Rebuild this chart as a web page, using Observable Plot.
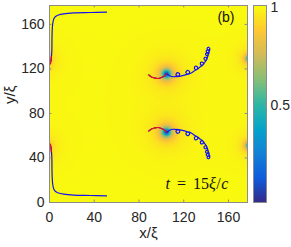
<!DOCTYPE html>
<html>
<head>
<meta charset="utf-8">
<script src="https://cdn.jsdelivr.net/npm/d3@7"></script>
<script src="https://cdn.jsdelivr.net/npm/@observablehq/plot@0.6"></script>
<style>
  html, body { margin: 0; padding: 0; background: #ffffff; }
  #chart { position: relative; width: 291px; height: 247px; }
  #chart svg { position: absolute; left: 0; top: 0; background: transparent; }
</style>
</head>
<body>
<div id="chart"></div>
<script>
// ---- data ----
const xTicks = [0, 40, 80, 120, 160];
const yTicks = [0, 40, 80, 120, 160];
const colorTicks = [0.5, 1];
const labelT = "t = 15ξ/c";

// vortex positions (x/ξ, y/ξ) and core size shaping the density field
const vortexX = [104.6, 104.6, -5, -5, 178.3, 178.3];
const vortexY = [115.5, 63.3, 127.6, 49.7, 129.4, 51.2];
const vortexCore = [3.2, 3.2, 2.4, 2.4, 2.0, 2.0];

// left boundary trajectories
const leftUpperBlue = [[1.3,126.7],[2.1,136.6],[2.2,145.6],[2.4,154.5],[2.9,160.8],[3.8,164.9],[5.4,167.1],[8.0,168.5],[12.5,169.5],[21.5,170.4],[36.7,170.7],[51.0,171.0]];
const leftUpperRed = [[0.9,124.6],[1.2,127.5],[1.6,130.8]];
const leftLowerBlue = [[1.3,50.3],[2.1,40.4],[2.2,31.4],[2.4,22.5],[2.9,16.2],[3.8,12.1],[5.4,9.9],[8.0,8.5],[12.5,7.5],[21.5,6.6],[36.7,6.3],[51.0,6.0]];
const leftLowerRed = [[0.9,52.4],[1.2,49.5],[1.6,46.2]];

// central trajectories
const midUpperRed = [[88.8,114.6],[91.2,112.8],[93.9,111.9],[97.0,111.4],[100.1,112.3],[102.8,113.7],[104.6,115.5]];
const midUpperBlue = [[88.8,114.6],[91.2,112.8],[93.9,111.9],[97.0,111.4],[100.1,112.3],[102.8,113.7],[104.6,115.5],
  [107.3,113.9],[110.5,113.0],[113.0,113.2],
  [115.0,113.3],[116.4,115.3],[114.4,116.7],[113.0,114.7],[115.0,113.3],
  [119.0,114.0],[122.0,114.9],
  [124.0,115.3],[125.3,117.4],[123.2,118.7],[121.9,116.6],[124.0,115.3],
  [127.5,116.8],[130.0,118.7],
  [131.8,119.6],[132.4,121.8],[130.2,122.4],[129.6,120.2],[131.8,119.6],
  [134.5,121.8],
  [137.1,123.6],[137.4,125.7],[135.3,126.0],[135.0,123.9],[137.1,123.6],
  [138.8,126.0],
  [140.5,128.4],[140.2,130.3],[138.3,130.0],[138.6,128.1],[140.5,128.4],
  [141.3,130.8],
  [141.9,132.8],[141.1,134.4],[139.5,133.6],[140.3,132.0],[141.9,132.8],
  [142.7,135.6],[141.7,137.2],[140.1,136.2],[141.1,134.6],[142.7,135.6],
  [143.3,138.0],[142.4,139.5],[140.9,138.6],[141.8,137.1],[143.3,138.0]];
const midLowerRed = [[88.8,64.2],[91.2,66.0],[93.9,66.9],[97.0,67.4],[100.1,66.5],[102.8,65.1],[104.6,63.3]];
const midLowerBlue = [[88.8,64.2],[91.2,66.0],[93.9,66.9],[97.0,67.4],[100.1,66.5],[102.8,65.1],[104.6,63.3],
  [107.3,64.9],[110.5,65.8],[113.0,65.6],
  [115.0,65.5],[116.4,63.5],[114.4,62.1],[113.0,64.1],[115.0,65.5],
  [119.0,64.8],[122.0,63.9],
  [124.0,63.5],[125.3,61.4],[123.2,60.1],[121.9,62.2],[124.0,63.5],
  [127.5,62.0],[130.0,60.1],
  [131.8,59.2],[132.4,57.0],[130.2,56.4],[129.6,58.6],[131.8,59.2],
  [134.5,57.0],
  [137.1,55.2],[137.4,53.1],[135.3,52.8],[135.0,54.9],[137.1,55.2],
  [138.8,52.8],
  [140.5,50.4],[140.2,48.5],[138.3,48.8],[138.6,50.7],[140.5,50.4],
  [141.3,48.0],
  [141.9,46.0],[141.1,44.4],[139.5,45.2],[140.3,46.8],[141.9,46.0],
  [142.7,43.2],[141.7,41.6],[140.1,42.6],[141.1,44.2],[142.7,43.2],
  [143.3,40.8],[142.4,39.3],[140.9,40.2],[141.8,41.7],[143.3,40.8]];

// parula colormap stops
const parula = ["#352a87","#0f5cdd","#1481d6","#06a4ca","#2eb7a4","#87bf77","#d1bb59","#fec832","#f9fb0e"];
const parulaInterp = d3.piecewise(d3.interpolateRgb, parula);

// density field from vortex list
function density(x, y) {
  let v = 1;
  for (let i = 0; i < vortexX.length; i++) {
    const dx = x - vortexX[i], dy = y - vortexY[i];
    const r2 = dx * dx + dy * dy;
    const c2 = vortexCore[i] * vortexCore[i];
    v *= r2 / (r2 + c2);
  }
  return v;
}

const blue = "#1414f0", red = "#ee1010";
const lw = 1.2;
const line = (data, stroke) => Plot.line(data, {x: d => d[0], y: d => d[1], stroke, strokeWidth: lw, curve: "catmull-rom"});
const font = "'Liberation Sans', Arial, Helvetica, sans-serif";
const ink = "#262626";
const frameGray = "#8c8c8c";

const main = Plot.plot({
  width: 291, height: 247,
  marginLeft: 49, marginRight: 44, marginTop: 5, marginBottom: 45,
  x: {domain: [0, 177], label: null},
  y: {domain: [0, 177], label: null},
  color: {type: "linear", domain: [0, 1], interpolate: parulaInterp},
  style: {fontFamily: font, fontSize: "14px", color: ink, background: "transparent"},
  marks: [
    Plot.raster({fill: density, x1: 0, y1: 0, x2: 177, y2: 177, pixelSize: 1}),
    line(leftUpperBlue, blue), line(leftLowerBlue, blue),
    line(leftUpperRed, red), line(leftLowerRed, red),
    line(midUpperBlue, blue), line(midLowerBlue, blue),
    line(midUpperRed, red), line(midLowerRed, red),
    Plot.frame({stroke: frameGray, strokeWidth: 1}),
    Plot.ruleX(xTicks, {y1: 0, y2: 2.2, stroke: frameGray}),
    Plot.ruleX(xTicks, {y1: 177, y2: 174.8, stroke: frameGray}),
    Plot.ruleY(yTicks, {x1: 0, x2: 2.2, stroke: frameGray}),
    Plot.ruleY(yTicks, {x1: 177, x2: 174.8, stroke: frameGray}),
    Plot.axisX(xTicks, {tickSize: 0, tickPadding: 10, label: null, fontSize: 14}),
    Plot.axisY(yTicks, {tickSize: 0, tickPadding: 5, label: null, fontSize: 14}),
    Plot.text(["x/ξ"], {frameAnchor: "bottom", dy: 35, fontSize: 15, fill: ink}),
    Plot.text(["y/ξ"], {frameAnchor: "left", rotate: -90, dx: -39, fontSize: 15, fill: ink}),
    Plot.text(["(b)"], {frameAnchor: "top-right", textAnchor: "end", lineAnchor: "middle", dx: -13, dy: 12, fontSize: 14, fill: "#111"}),
    Plot.text([labelT], {frameAnchor: "bottom-right", textAnchor: "start", lineAnchor: "middle", dx: -82, dy: -19, fontSize: 16, fill: "#111"})
  ]
});

// typeset the time label: italic symbols, upright numbers
d3.select(main).selectAll("text").each(function() {
  if (this.textContent === labelT) {
    const t = d3.select(this);
    t.text(null).attr("font-family", "'Liberation Serif', 'Times New Roman', serif");
    const parts = [["t", "italic", 0], ["=", "normal", 7], ["15", "normal", 7], ["ξ", "italic", 0], ["/", "normal", 0.5], ["c", "italic", 0.5]];
    for (const [s, st, dx] of parts) t.append("tspan").attr("font-style", st).attr("dx", dx).text(s);
  }
});

const cbar = Plot.plot({
  width: 291, height: 247,
  marginLeft: 253, marginRight: 25, marginTop: 5, marginBottom: 45,
  x: {domain: [0, 1], axis: null},
  y: {domain: [0, 1], axis: null},
  color: {type: "linear", domain: [0, 1], interpolate: parulaInterp},
  style: {fontFamily: font, fontSize: "14px", color: ink, background: "transparent"},
  marks: [
    Plot.raster({fill: (x, y) => y, x1: 0, y1: 0, x2: 1, y2: 1, pixelSize: 1}),
    Plot.frame({stroke: frameGray, strokeWidth: 1}),
    Plot.ruleY(colorTicks, {x1: 1, x2: 0.82, stroke: frameGray}),
    Plot.axisY(colorTicks, {anchor: "right", tickSize: 0, tickPadding: 4, dy: 2, label: null, fontSize: 14, tickFormat: d => String(d)})
  ]
});

const el = document.getElementById("chart");
el.appendChild(main);
el.appendChild(cbar);
</script>
</body>
</html>
